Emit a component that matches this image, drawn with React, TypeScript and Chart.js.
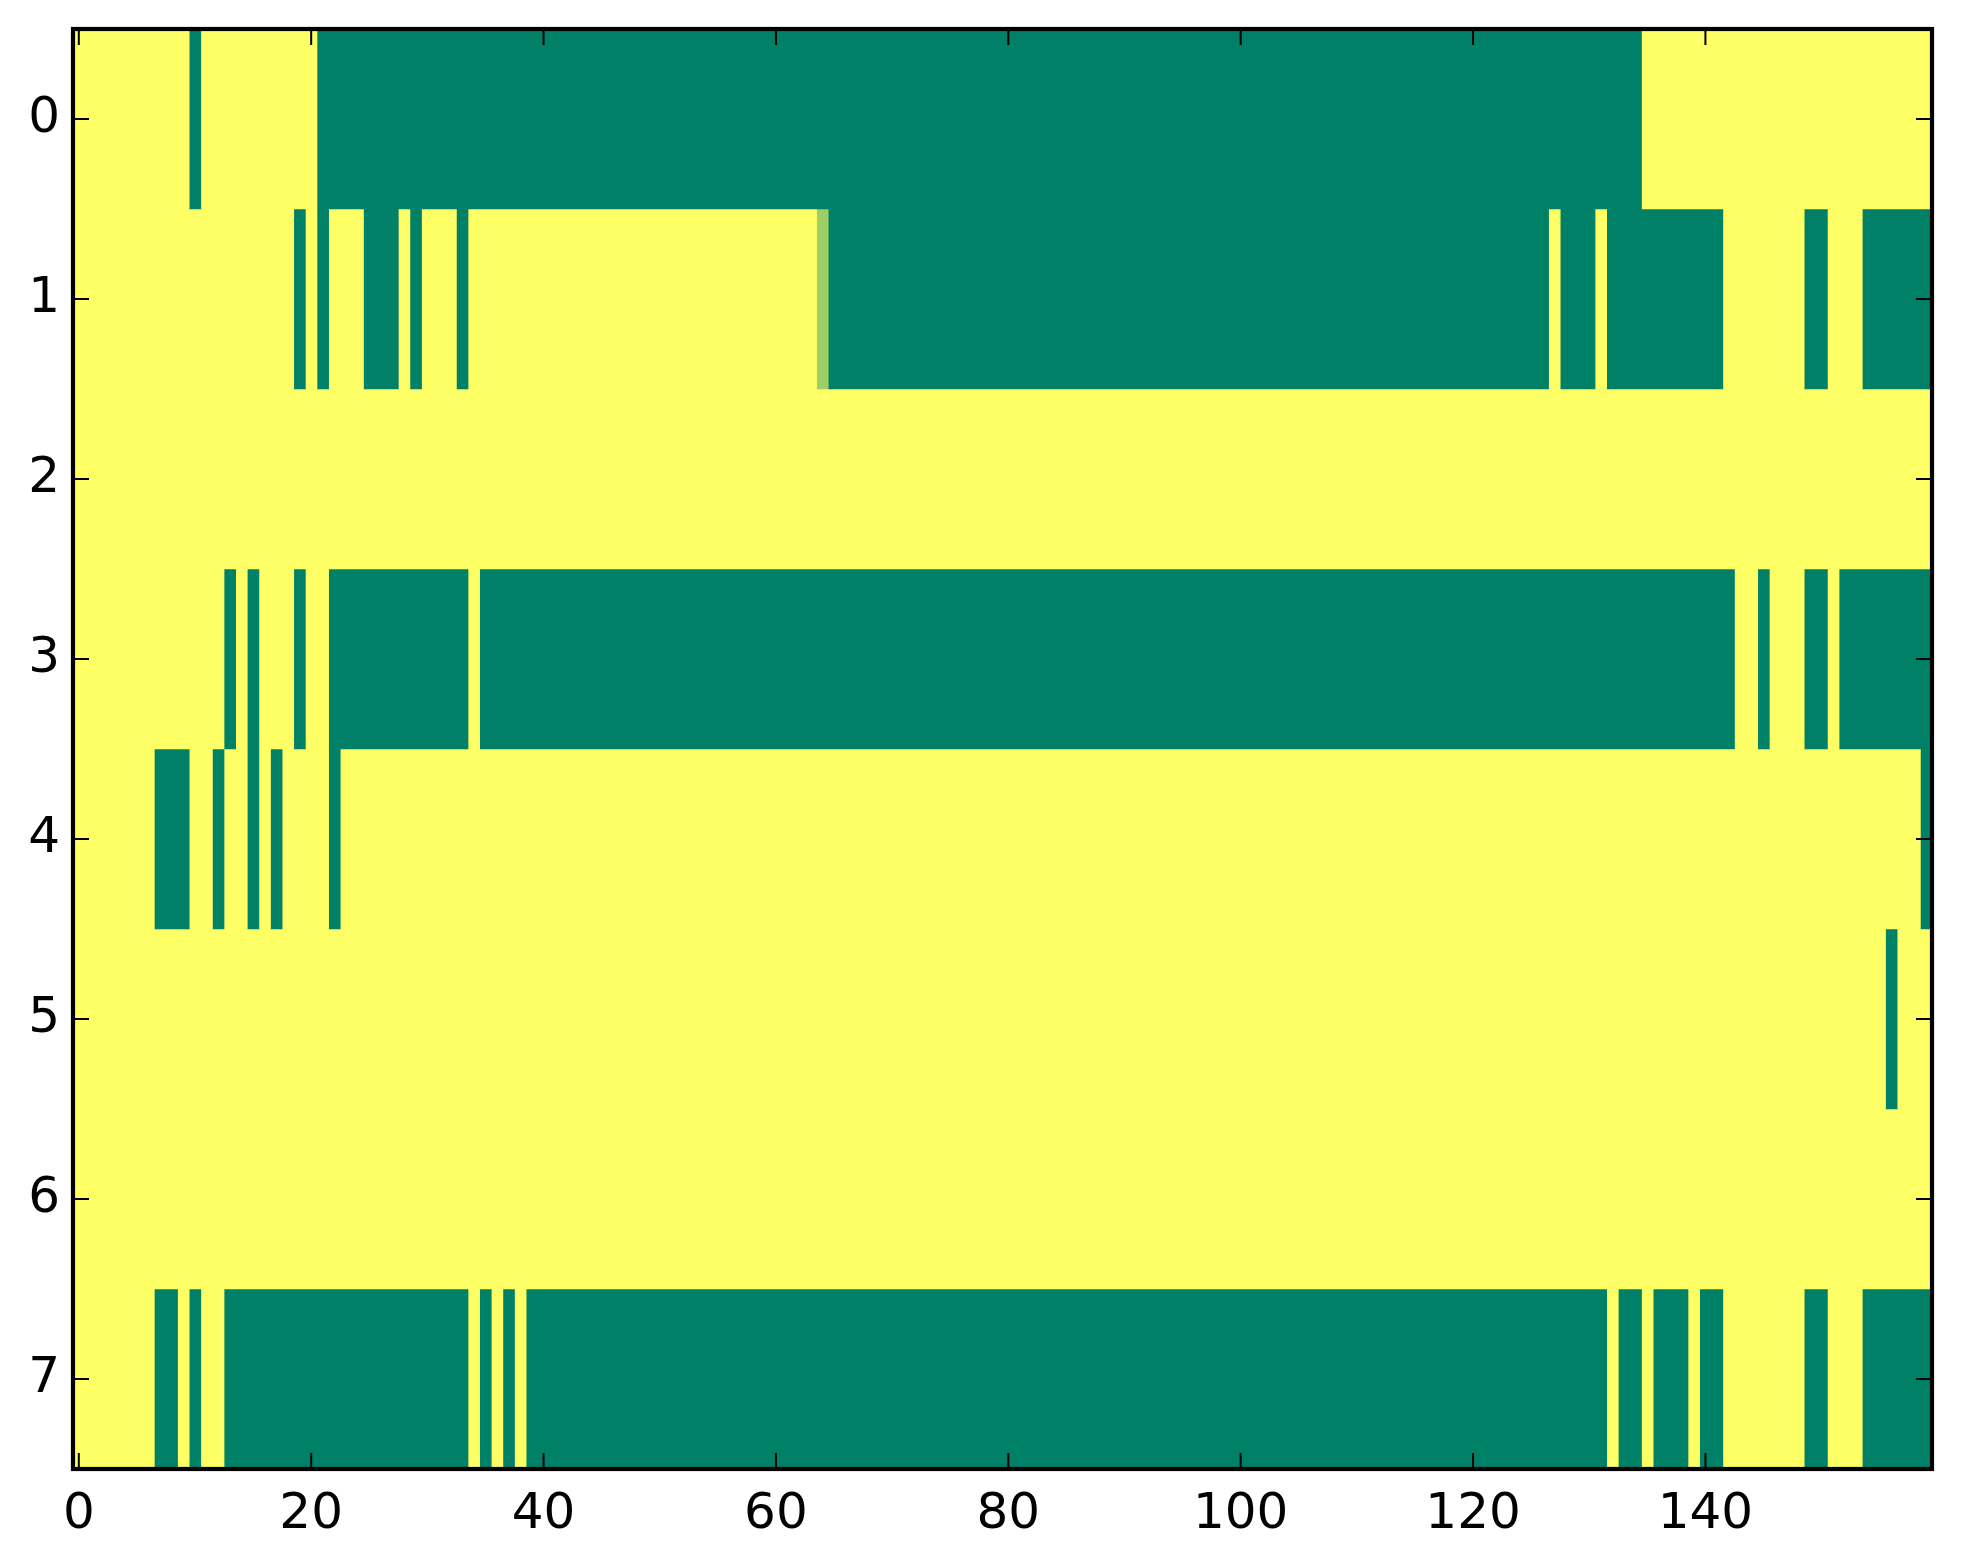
import React, { useEffect, useRef } from 'react';
import { Chart, registerables } from 'chart.js';

Chart.register(...registerables);

// Row labels (y axis categories) and x tick values
const rowLabels: string[] = ['0', '1', '2', '3', '4', '5', '6', '7'];
const xTickValues: number[] = [0, 20, 40, 60, 80, 100, 120, 140];
const nColumns = 160;

// Each row as runs of [value, number of columns] (left to right)
const row0: [number, number][] = [[1, 10], [0, 1], [1, 10], [0, 114], [1, 25]];
const row1: [number, number][] = [
  [1, 19], [0, 1], [1, 1], [0, 1], [1, 3], [0, 3], [1, 1], [0, 1], [1, 3], [0, 1],
  [1, 30], [0.62, 1], [0, 62], [1, 1], [0, 3], [1, 1], [0, 10], [1, 7], [0, 2], [1, 3], [0, 6],
];
const row2: [number, number][] = [[1, 160]];
const row3: [number, number][] = [
  [1, 13], [0, 1], [1, 1], [0, 1], [1, 3], [0, 1], [1, 2], [0, 12], [1, 1], [0, 108],
  [1, 2], [0, 1], [1, 3], [0, 2], [1, 1], [0, 8],
];
const row4: [number, number][] = [
  [1, 7], [0, 3], [1, 2], [0, 1], [1, 2], [0, 1], [1, 1], [0, 1], [1, 4], [0, 1], [1, 136], [0, 1],
];
const row5: [number, number][] = [[1, 156], [0, 1], [1, 3]];
const row6: [number, number][] = [[1, 160]];
const row7: [number, number][] = [
  [1, 7], [0, 2], [1, 1], [0, 1], [1, 2], [0, 21], [1, 1], [0, 1], [1, 1], [0, 1], [1, 1],
  [0, 93], [1, 1], [0, 2], [1, 1], [0, 3], [1, 1], [0, 2], [1, 7], [0, 2], [1, 3], [0, 6],
];

const rows = [row0, row1, row2, row3, row4, row5, row6, row7];

// matplotlib "summer" colormap
function summer(v: number): string {
  const r = Math.round(255 * v);
  const g = Math.round(127.5 + 127.5 * v);
  const b = 102;
  return `rgb(${r}, ${g}, ${b})`;
}

const FONT = { family: '"DejaVu Sans", "Liberation Sans", sans-serif', size: 50 };

const framePlugin = {
  id: 'mplFrame',
  afterDatasetsDraw(chart: any) {
    const { ctx, chartArea: a, scales } = chart;
    const xs = scales.x;
    const ys = scales.y;
    const L = 16;
    ctx.save();
    ctx.strokeStyle = '#000';
    ctx.lineWidth = 2;
    ctx.beginPath();
    xs.ticks.forEach((t: any) => {
      const px = xs.getPixelForValue(t.value);
      ctx.moveTo(px, a.bottom);
      ctx.lineTo(px, a.bottom - L);
      ctx.moveTo(px, a.top);
      ctx.lineTo(px, a.top + L);
    });
    ys.ticks.forEach((_t: any, i: number) => {
      const py = ys.getPixelForTick(i);
      ctx.moveTo(a.left, py);
      ctx.lineTo(a.left + L, py);
      ctx.moveTo(a.right, py);
      ctx.lineTo(a.right - L, py);
    });
    ctx.stroke();
    ctx.lineWidth = 4.2;
    ctx.strokeRect(a.left, a.top, a.right - a.left, a.bottom - a.top);
    ctx.restore();
  },
};

export default function App() {
  const canvasRef = useRef<HTMLCanvasElement | null>(null);

  useEffect(() => {
    if (!canvasRef.current) return;

    const datasets: any[] = [];
    rows.forEach((runs, r) => {
      let c = 0;
      runs.forEach(([v, n]) => {
        const data = rowLabels.map((_, i) => (i === r ? [c - 0.5, c + n - 0.5] : null));
        datasets.push({
          data,
          backgroundColor: summer(v),
          borderWidth: 0,
          barPercentage: 1,
          categoryPercentage: 1,
          grouped: false,
        });
        c += n;
      });
    });

    const chart = new Chart(canvasRef.current, {
      type: 'bar',
      data: { labels: rowLabels, datasets },
      options: {
        indexAxis: 'y',
        animation: false,
        responsive: false,
        devicePixelRatio: 1,
        layout: { padding: { left: 0, top: 29, right: 31, bottom: 0 } },
        plugins: { legend: { display: false }, tooltip: { enabled: false } },
        scales: {
          x: {
            type: 'linear',
            position: 'bottom',
            min: -0.5,
            max: nColumns - 0.5,
            grid: { display: false, drawTicks: false },
            border: { display: false },
            afterBuildTicks: (scale: any) => {
              scale.ticks = xTickValues.map((v) => ({ value: v }));
            },
            ticks: {
              includeBounds: false,
              stepSize: 20,
              color: '#000',
              font: FONT,
              padding: 16,
              maxRotation: 0,
              autoSkip: false,
            },
            afterFit: (scale: any) => {
              scale.height = 95;
              scale.paddingLeft = 0;
              scale.paddingRight = 0;
            },
          },
          y: {
            type: 'category',
            position: 'left',
            offset: true,
            grid: { display: false, drawTicks: false },
            border: { display: false },
            ticks: { color: '#000', font: FONT, padding: 13, autoSkip: false },
            afterFit: (scale: any) => {
              scale.width = 73;
              scale.paddingTop = 0;
              scale.paddingBottom = 0;
            },
          },
        },
      },
      plugins: [framePlugin],
    });

    return () => chart.destroy();
  }, []);

  return (
    <div style={{ position: 'absolute', left: 0, top: 0, width: 1963, height: 1564, background: '#fff' }}>
      <canvas ref={canvasRef} width={1963} height={1564} style={{ display: 'block', width: 1963, height: 1564 }} />
    </div>
  );
}
